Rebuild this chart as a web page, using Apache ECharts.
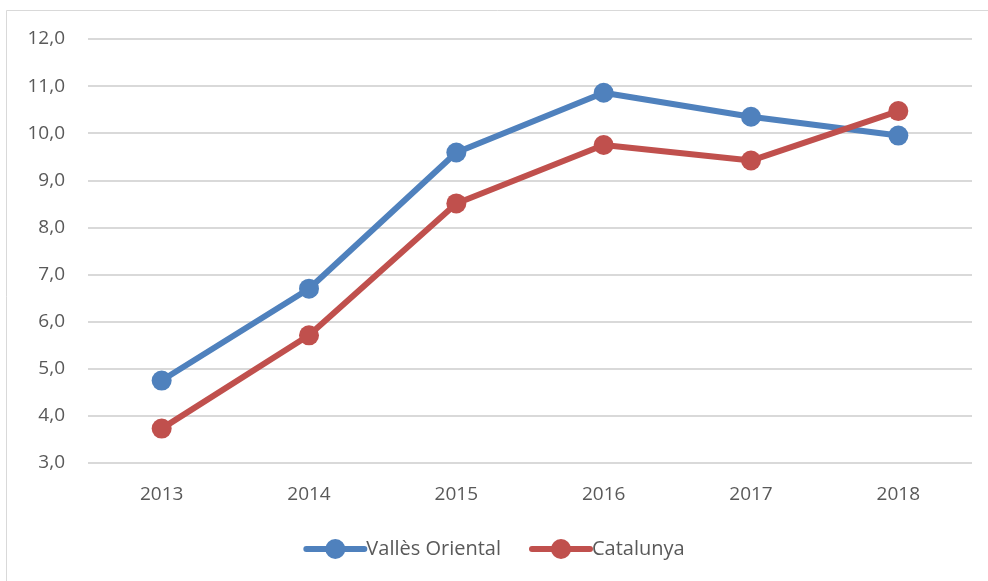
<!DOCTYPE html>
<html>
<head>
<meta charset="utf-8">
<script src="https://cdn.jsdelivr.net/npm/echarts@6/dist/echarts.min.js"></script>
<style>
html,body{margin:0;padding:0;background:#fff;}
#c{width:988px;height:581px;}
</style>
</head>
<body>
<div id="c"></div>
<script>
const categories = ['2013','2014','2015','2016','2017','2018'];
const vallesOriental = [4.75, 6.70, 9.59, 10.86, 10.35, 9.95];
const catalunya = [3.73, 5.71, 8.51, 9.75, 9.42, 10.47];
const seriesNames = ['Vallès Oriental', 'Catalunya'];

const chart = echarts.init(document.getElementById('c'), null, {renderer:'canvas'});
const font = "'Open Sans', sans-serif";
chart.setOption({
  animation: false,
  backgroundColor: '#fff',
  graphic: [{
    type: 'rect',
    shape: {x: 6.5, y: 10.5, width: 1100, height: 700},
    style: {fill: 'none', stroke: '#d9d9d9', lineWidth: 1},
    silent: true
  }],
  grid: {left: 88, right: 16, top: 39, bottom: 118},
  legend: {
    data: seriesNames,
    bottom: 17,
    left: 'center',
    itemWidth: 58,
    itemHeight: 25,
    itemGap: 28,
    lineStyle: {width: 6, cap: 'round'},
    textStyle: {fontFamily: font, fontSize: 20, color: '#595959', padding: [0,0,0,-3]}
  },
  xAxis: {
    type: 'category',
    data: categories,
    boundaryGap: true,
    axisLine: {show: false},
    axisTick: {show: false},
    axisLabel: {margin: 22, fontFamily: font, fontSize: 19, color: '#595959'}
  },
  yAxis: {
    type: 'value',
    min: 3, max: 12, interval: 1,
    axisLine: {show: false},
    axisTick: {show: false},
    splitLine: {lineStyle: {color: '#d9d9d9', width: 2}},
    axisLabel: {
      margin: 23, fontFamily: font, fontSize: 19, color: '#595959',
      formatter: v => v.toFixed(1).replace('.', ',')
    }
  },
  series: [
    {
      name: seriesNames[0], type: 'line', data: vallesOriental,
      symbol: 'circle', symbolSize: 20,
      lineStyle: {color: '#4F81BD', width: 6},
      itemStyle: {color: '#4F81BD'}
    },
    {
      name: seriesNames[1], type: 'line', data: catalunya,
      symbol: 'circle', symbolSize: 20,
      lineStyle: {color: '#C0504D', width: 6},
      itemStyle: {color: '#C0504D'}
    }
  ]
});
</script>
</body>
</html>
